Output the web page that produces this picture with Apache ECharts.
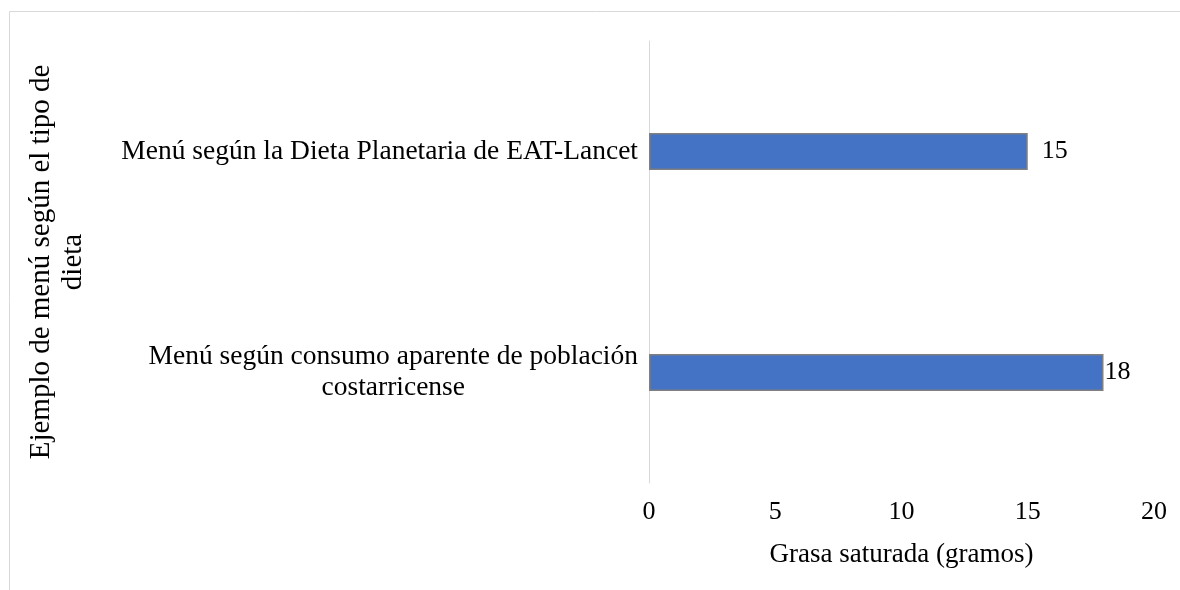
<!DOCTYPE html>
<html>
<head>
<meta charset="utf-8">
<script src="https://cdn.jsdelivr.net/npm/echarts@6/dist/echarts.min.js"></script>
<style>
html,body{margin:0;padding:0;background:#fff;}
#c{width:1180px;height:590px;}
</style>
</head>
<body>
<div id="c"></div>
<script>
const categories = [
  'Menú según consumo aparente de población\ncostarricense',
  'Menú según la Dieta Planetaria de EAT-Lancet'
];
const values = [18, 15];
const xTicks = [0, 5, 10, 15, 20];
const xTitle = 'Grasa saturada (gramos)';
const yTitle = 'Ejemplo de menú según el tipo de\ndieta';

const FONT = '"Liberation Serif", "Times New Roman", serif';
const chart = echarts.init(document.getElementById('c'));
chart.setOption({
  animation: false,
  textStyle: { fontFamily: FONT },
  graphic: [{
    type: 'rect',
    shape: { x: 9.5, y: 11.5, width: 1200, height: 620 },
    style: { fill: 'none', stroke: '#d9d9d9', lineWidth: 1 },
    silent: true
  }],
  grid: { left: 649, right: 26, top: 41, bottom: 107, containLabel: false },
  xAxis: {
    type: 'value',
    min: xTicks[0],
    max: xTicks[xTicks.length - 1],
    interval: xTicks[1] - xTicks[0],
    axisLine: { show: false },
    axisTick: { show: false },
    splitLine: { show: false },
    axisLabel: { fontFamily: FONT, fontSize: 26, color: '#000', margin: 16 },
    name: xTitle,
    nameLocation: 'middle',
    nameGap: 58,
    nameTextStyle: { fontFamily: FONT, fontSize: 27, color: '#000' }
  },
  yAxis: {
    type: 'category',
    data: categories,
    axisLine: { show: true, lineStyle: { color: '#d9d9d9', width: 1 } },
    axisTick: { show: false },
    splitLine: { show: false },
    axisLabel: {
      fontFamily: FONT, fontSize: 27.5, color: '#000', margin: 11,
      lineHeight: 31,
      formatter: function (v) {
        return v.split('\n').map(function (s) { return '{c|' + s + '}'; }).join('\n');
      },
      rich: { c: { align: 'center', fontFamily: FONT, fontSize: 27.5, color: '#000', lineHeight: 31 } }
    },
    name: yTitle,
    nameLocation: 'middle',
    nameRotate: 90,
    nameGap: 560,
    nameTextStyle: { fontFamily: FONT, fontSize: 29, color: '#000', lineHeight: 32, align: 'center' }
  },
  series: [{
    type: 'bar',
    barWidth: 37,
    data: values.map(function (v, i) {
      return { value: v, label: { distance: i === 0 ? 1 : 14 } };
    }),
    itemStyle: { color: '#4472C4', borderColor: '#7f7f7f', borderWidth: 1.5 },
    label: {
      show: true, position: 'right', fontFamily: FONT, fontSize: 26, color: '#000'
    }
  }]
});
</script>
</body>
</html>
